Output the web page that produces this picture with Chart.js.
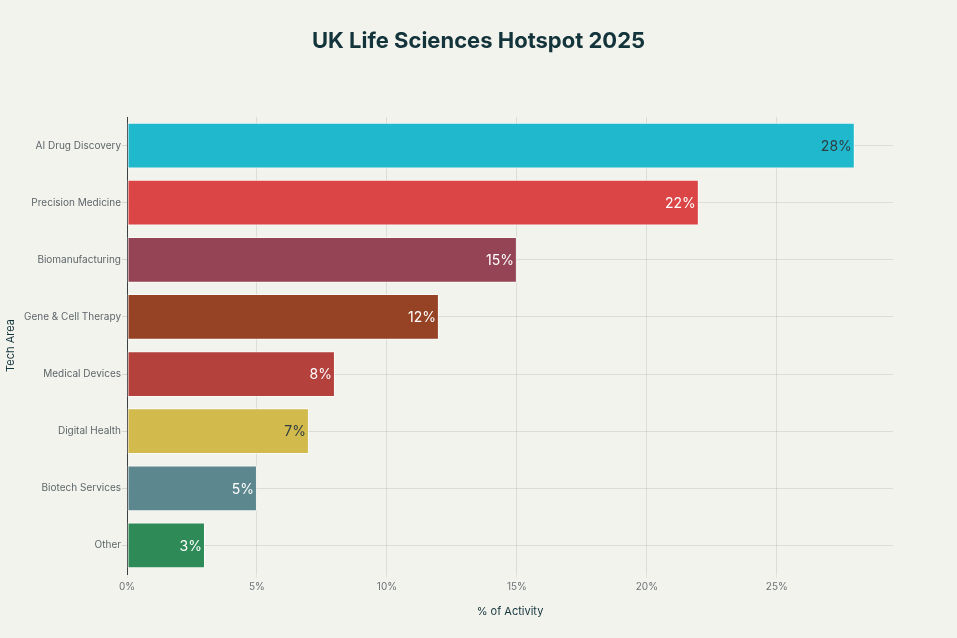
<!DOCTYPE html>
<html>
<head>
<meta charset="utf-8">
<script src="https://cdn.jsdelivr.net/npm/chart.js@4.4.1/dist/chart.umd.min.js"></script>
<style>
html,body{margin:0;padding:0;background:#F3F3EE;}
#wrap{width:957px;height:638px;position:relative;}
</style>
</head>
<body>
<div id="wrap"><canvas id="c" width="957" height="638"></canvas></div>
<script>
const chartTitle = "UK Life Sciences Hotspot 2025";
const categories = ["AI Drug Discovery","Precision Medicine","Biomanufacturing","Gene & Cell Therapy","Medical Devices","Digital Health","Biotech Services","Other"];
const values = [28,22,15,12,8,7,5,3];
const barColors = ["#1FB8CD","#DB4545","#944454","#964325","#B4413C","#D2BA4C","#5D878F","#2E8B57"];
const labelColors = ["#2F3D41","#FFFFFF","#FFFFFF","#FFFFFF","#FFFFFF","#2F3D41","#FFFFFF","#FFFFFF"];
const xTicks = [0,5,10,15,20,25];

const FONT = "Inter, 'Open Sans', sans-serif";

const bgPlugin = {
  id:'bg',
  beforeDraw(chart){
    const ctx=chart.ctx; ctx.save(); ctx.fillStyle='#F3F3EE'; ctx.fillRect(0,0,chart.width,chart.height);
    ctx.fillStyle='#13343B'; ctx.font="bold 22px "+FONT; ctx.textAlign='center'; ctx.textBaseline='middle';
    ctx.fillText(chartTitle, chart.width/2, 41);
    ctx.restore();
  }
};
const labelPlugin = {
  id:'barLabels',
  afterDatasetsDraw(chart){
    const ctx=chart.ctx; const meta=chart.getDatasetMeta(0);
    ctx.save();
    ctx.font = "14px " + FONT;
    ctx.textAlign='right'; ctx.textBaseline='middle';
    meta.data.forEach((bar,i)=>{
      ctx.fillStyle=labelColors[i];
      ctx.fillText(values[i]+'%', bar.x-3, bar.y+1);
    });
    ctx.restore();
  }
};

new Chart(document.getElementById('c'),{
  type:'bar',
  data:{labels:categories,datasets:[{data:values,backgroundColor:barColors,borderColor:'rgba(255,255,255,0.6)',borderWidth:1,borderSkipped:false,categoryPercentage:1,barPercentage:0.8}]},
  options:{
    indexAxis:'y',
    responsive:false,
    animation:false,
    layout:{padding:{left:0,right:64,top:117,bottom:0}},
    plugins:{
      legend:{display:false},
      tooltip:{enabled:false},
      title:{display:false}
    },
    scales:{
      x:{
        min:0,max:29.47,
        afterBuildTicks(s){ s.ticks = xTicks.map(v=>({value:v})); },
        afterFit(s){ s.height=64; },
        ticks:{color:'#6B7275',font:{family:FONT,size:10},padding:3,callback:v=>v+'%'},
        grid:{color:'rgba(0,0,0,0.09)',lineWidth:1,tickLength:4,tickColor:'rgba(0,0,0,0.06)'},
        border:{display:false},
        title:{display:true,text:'% of Activity',color:'#13343B',font:{family:FONT,size:11},padding:{top:0,bottom:20}}
      },
      y:{
        afterFit(s){ s.width=127; },
        ticks:{color:'#5E6669',font:{family:FONT,size:10},padding:1},
        grid:{offset:false,color:'rgba(0,0,0,0.09)',lineWidth:1,tickLength:5,tickColor:'rgba(0,0,0,0.12)'},
        border:{display:true,color:'#3A3F40',width:1},
        title:{display:true,text:'Tech Area',color:'#13343B',font:{family:FONT,size:11},padding:{top:4,bottom:0}}
      }
    }
  },
  plugins:[bgPlugin,labelPlugin]
});
</script>
</body>
</html>
